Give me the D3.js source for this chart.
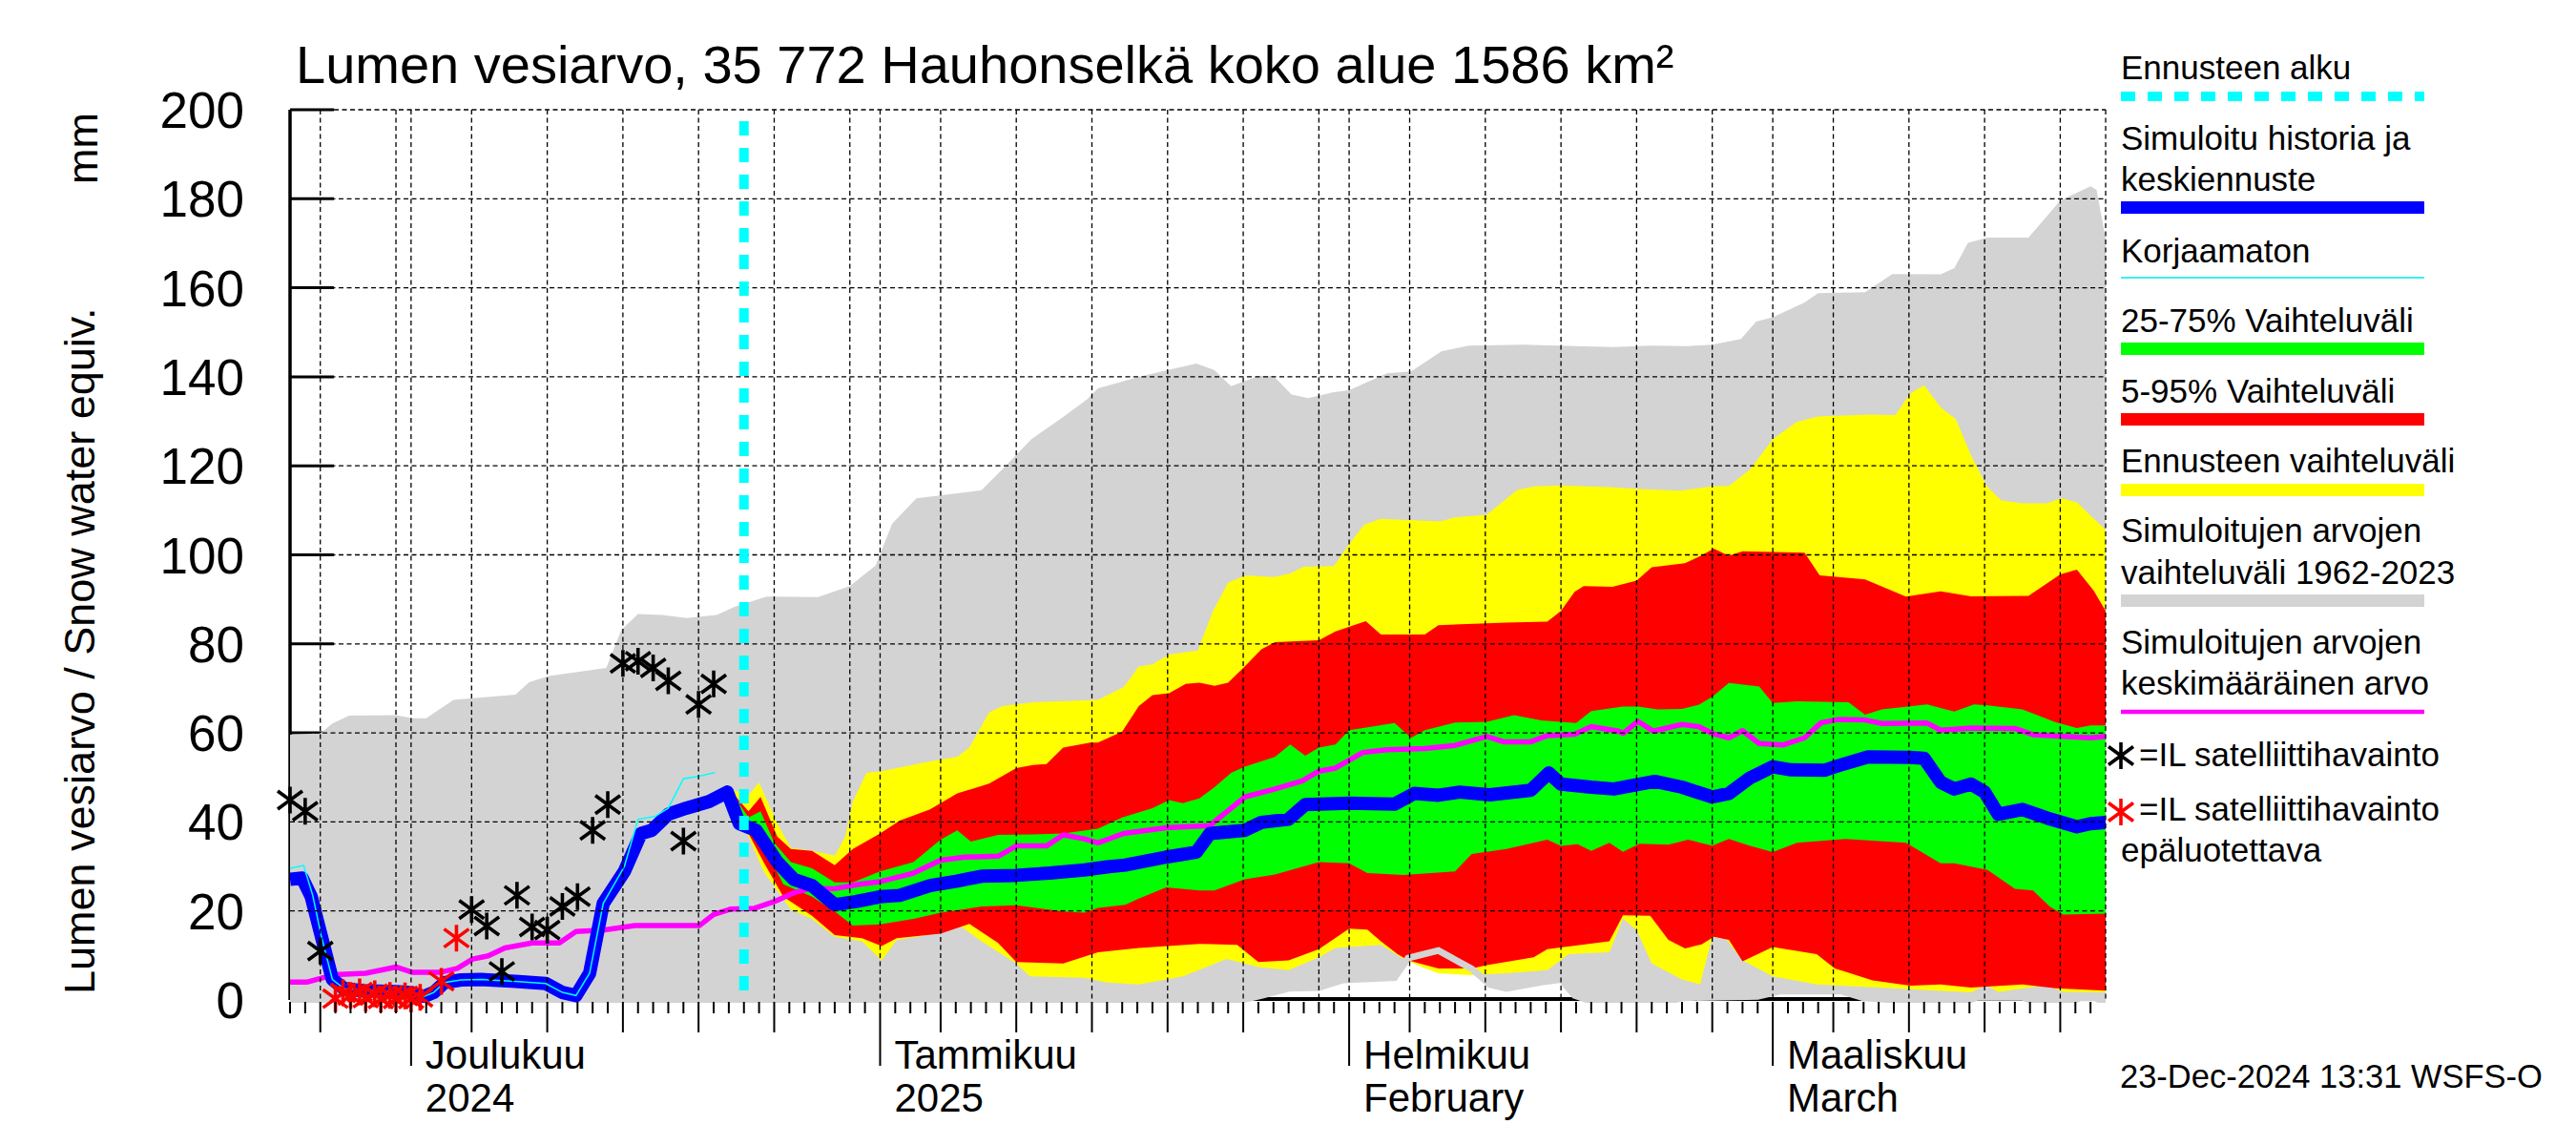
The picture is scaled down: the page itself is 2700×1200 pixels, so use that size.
<!DOCTYPE html>
<html>
<head>
<meta charset="utf-8">
<script src="https://cdn.jsdelivr.net/npm/d3@7"></script>
<style>
  body { margin: 0; background: #fff; }
  text { font-family: "Liberation Sans", Arial, sans-serif; fill: #000; }
</style>
</head>
<body>
<div id="chart"></div>
<script>
'use strict';

// day 0 = 23 Nov 2024, values in mm as [day, value]
var startDate = Date.UTC(2024, 10, 23);
var endDay = 120;
var forecastDay = 30;

var simMax = [[0,59.6],[2,59.9],[2.8,62.1],[3.9,63.9],[7,64],[8.1,63.3],[9,63.3],[10.8,67.4],[14.9,68.6],[15.8,71.4],[17.1,72.8],[20.9,74.6],[21.9,83.1],[23,86.7],[24.6,86.5],[26.2,85.8],[28.2,86.5],[29.5,88.5],[31.5,90.6],[34.9,90.5],[37,93],[38.7,97.6],[39.8,107],[41.4,112.7],[45.7,114.5],[47.3,120],[49,126],[51.1,131],[52.7,135],[53.4,137.4],[56.1,140],[57.9,141.4],[59.9,143],[61.1,141.5],[62.2,137.9],[64,140.2],[65,140.2],[66.2,136],[67.3,135.2],[68.9,136.5],[70,137],[72.5,140.8],[74.1,141.2],[76.1,145.7],[77.9,147],[81.5,147.2],[87.4,146.7],[89.9,147],[92.4,146.9],[94,147.2],[95.9,148.5],[96.9,152.4],[98,153.4],[100.1,156.7],[101,158.8],[104.1,159],[105.9,163.1],[109.1,163],[110,164.4],[110.9,170.1],[112.2,171.3],[114.9,171.3],[117,179.6],[119,182.8],[119.4,182],[120,171]];
var simMin = [[0,0],[62.9,0],[64.2,1],[66,2.6],[68,2.8],[69.6,4.5],[73,5],[73.9,9.4],[75.9,11.1],[78.1,7],[79.3,3.5],[80.4,2.6],[82.7,4],[84,4.6],[84.9,1],[85.8,0],[91.5,0],[92,0.5],[97,0.8],[98.5,2],[102.5,2],[104,0.5],[106,0],[111,0],[111.5,0.6],[114.5,0.6],[115,0],[118,0],[118.3,0.5],[119.3,0.5],[119.6,0],[120,0]];

var fcMax = [[29,47.5],[30.3,46],[31,48.9],[32.2,39.6],[33.1,34.2],[34.5,33.5],[36,32.4],[36.7,36.7],[37.2,44.6],[38.1,51],[39.1,51.4],[42.1,53.5],[44.1,54.6],[44.9,56.7],[46.2,64.6],[47.1,66],[49.1,66.9],[52.5,67.3],[53.4,67.4],[55.1,70.3],[56.1,74.9],[57,75.4],[58.1,77.6],[60,78.5],[61,87.4],[62,93.8],[63.2,95.4],[65,95],[66.1,95.8],[67,97.3],[69,97.5],[70,102.4],[71,106.8],[72.1,108.1],[76,107.5],[77,108.4],[79.1,109],[81.1,114.6],[82.2,115.4],[84,115.6],[87.2,115.2],[89.1,114.8],[91.9,114.4],[94,115.4],[95.1,115.5],[96.5,119.2],[98,126],[99.6,129.9],[101,131.1],[104.3,131.5],[106.1,131.4],[107.1,136.3],[108,138.1],[109.1,133.1],[110.1,130.5],[111.1,122.4],[112.1,115.6],[113.1,112.2],[114.5,111.6],[116.1,111.6],[117.1,112.7],[118.1,111.8],[120,105.6]];
var fcMin = [[29,47.5],[30.3,36.7],[31.3,28.9],[33.1,20.3],[34.5,18.2],[36,14.2],[37.8,13.2],[39.1,8.9],[40.1,13.5],[42.1,14.6],[44.1,17.1],[45.7,13.2],[48,8.2],[48.9,5.3],[52.5,5],[54,3.9],[56.1,3.5],[59,5.3],[61.9,9.2],[64,7.4],[66,6.7],[68,9.6],[69.1,11.7],[72.1,12.4],[73.6,9.2],[74.8,7.4],[75.9,6],[78.1,5.6],[80.4,6],[83.1,6.7],[84.5,10.3],[87.2,10.7],[88.1,18.3],[89,15.7],[90,8.2],[92,4.6],[93.2,3.5],[94,14.2],[94.9,13.7],[96,8.9],[98,5.3],[100.9,3.5],[105,2.8],[111.1,1.7],[112.1,3.3],[112.9,1.8],[116.1,3.3],[117.2,1.8],[120,1.7]];

var p95 = [[29,47.5],[30.3,42.4],[31.1,45.6],[32.2,36.7],[33.1,33.9],[34.5,33.5],[36,30.3],[37.2,33.9],[39,37.4],[40.3,40.3],[42.3,42.8],[44.1,46.4],[46.2,48.6],[48,52.1],[49.1,52.8],[50,53],[51.1,56.7],[52.9,57.8],[53.4,57.8],[55,60.3],[56.1,66],[57,68.5],[58.1,68.9],[59.2,71],[60.1,71.3],[61.1,70.6],[62,71.3],[63.1,74.9],[64.2,78.8],[65.1,80.4],[68,80.8],[69.1,82.8],[71.1,85.1],[72.1,82.1],[75,82.1],[75.9,84.2],[80.4,84.8],[83.1,85],[84,87.4],[84.9,91.7],[85.5,93],[87.4,92.8],[89,94.2],[90,97.2],[92.2,98.1],[93.3,99.9],[94.1,101.4],[95.1,99.8],[96,100.8],[100.1,100.5],[101.1,95.4],[104.1,94.5],[106.8,90.6],[109.1,91.8],[111.1,90.7],[114.9,90.8],[117,95.6],[118.1,96.7],[119.2,92],[120,87.4]];
var p5 = [[29,47.5],[30.3,37.4],[31.3,31],[32.6,23.2],[34.5,18.9],[36,14.6],[37.8,13.9],[39.1,12.1],[40.1,13.9],[43,14.9],[44.9,17.1],[46.8,12.8],[48,8.5],[51.1,8.2],[53.4,10.7],[56.1,11.7],[60.1,12.6],[62.6,12.4],[64,8.5],[66,8.9],[68,11.4],[70,16],[71.2,15.8],[72.1,13.2],[73.2,10.3],[73.9,8.9],[75.9,7.1],[78.1,7.1],[79.1,7.8],[82.2,9.6],[83.1,11.4],[87.2,13.2],[88.1,19],[89.9,18.9],[91.1,13.5],[92.2,11.6],[93.3,12.5],[94.1,14.2],[95.1,13.5],[96,8.7],[98,11.9],[100.9,10.3],[102.1,7.1],[104.6,4.4],[107.1,3.2],[109.1,3.5],[111.1,2.8],[114.5,3.5],[116.7,2.6],[120,2.1]];

var p75 = [[29,47.5],[30.3,41],[31.1,42.4],[32,35.3],[33.1,31],[34.5,29.6],[36,26.4],[37.2,26.4],[39,28.9],[41.2,31],[43,36],[44.1,38.1],[45,35.6],[46.8,37.1],[49.1,37.2],[51.1,37.4],[53.4,38.5],[55,41],[57,43.1],[58.1,44.9],[59,44.2],[60.1,45.3],[61.1,47.8],[62.2,51],[63.1,52.4],[65.1,54.6],[66.1,57.4],[67.1,54.9],[68,56.7],[69.1,57.4],[70,60.6],[73,62.2],[74.1,58.9],[75,60.6],[77,62.3],[79.1,62.5],[80.9,64],[82.7,62.8],[85,62.2],[86,64.9],[88.1,65.9],[89.1,65.9],[90.4,65.3],[92,65.4],[93.1,66.3],[94,68.1],[95.1,71.2],[97.1,70.4],[98,66.7],[99.6,67.1],[103,66.9],[104.1,64.1],[105.2,65.3],[108.2,66.4],[110,64.8],[111.3,66.4],[112.2,66.2],[114.5,65.3],[116.7,62.4],[118.1,61.1],[119,61.7],[120,61.7]];
var p25 = [[29,47.5],[30.3,38.9],[31.3,34.6],[32.6,26],[34.5,23.2],[36,19.9],[37.2,16.7],[39,17],[41.2,18.2],[43,19.6],[45.7,21],[48,21.3],[51.1,19.9],[52.5,19.6],[53.4,20.7],[55.2,21.4],[56.1,22.8],[57.9,25.3],[60.1,24.6],[61.1,24.6],[63.1,27.1],[65.1,28.2],[68,31],[70,30.7],[71.2,28.5],[73.6,28.1],[77,28.9],[78.1,32.8],[80.4,33.9],[83.1,36],[84,34.6],[85.1,35],[86,33.5],[87.2,35.3],[88.1,33.3],[89.2,35.1],[91.1,34.9],[92.4,36],[94,34.7],[95.1,36.2],[96.5,34.6],[98,33.2],[99.6,35.3],[102.8,36.2],[106.8,35.3],[109.1,30.7],[110,30.7],[112.2,29.2],[114,25],[115.2,24.6],[116.3,21],[117.2,19.2],[120,19.4]];

var simMean = [[0,4],[1.1,4],[2.95,5.7],[5,6],[7,7.4],[8.1,6.2],[9.9,6.2],[11.06,7.1],[12.07,9.2],[13.1,9.9],[14.2,11.7],[16,12.8],[17.8,12.8],[18.9,15.4],[20.7,15.7],[22.8,16.7],[27.05,16.7],[28,19.2],[29.1,20.4],[30.7,20.6],[32,22.1],[33.4,24.2],[34.5,25.1],[36,25],[37.6,26],[39,26.6],[41.2,28.5],[43,31.4],[44.6,32.1],[46.8,32.3],[48,34.6],[50,34.6],[51.1,37.1],[52.5,36.2],[53.4,35.3],[55.1,37.4],[57.9,38.7],[60.8,39.2],[63.1,45.6],[65.1,47.4],[66.9,49.2],[68,51.4],[69.1,52.1],[70.9,55.6],[72.5,56.2],[75,56.5],[77,57.2],[79.1,59.2],[80.2,58],[82,58],[83.1,59.4],[84.9,59.7],[86,61.4],[87.8,60.4],[88.1,59.9],[89.1,62.6],[90.1,60.4],[92,61.9],[93.1,61.4],[94,59.9],[95.1,58.9],[96,60.5],[97.1,57.6],[98.7,57.3],[100.1,58.9],[101.2,62.3],[102.3,63],[104.1,62.9],[105.2,62.1],[108.2,62.2],[109.1,60.6],[111.1,61.1],[114,61],[115.2,59.6],[119,58.9],[120,59.2]];

var simMedian = [[0,27.1],[0.8,27.4],[1.4,23.2],[2.05,14.6],[2.8,4.6],[3.6,2.5],[4.75,2.1],[7,1.9],[8.1,1.6],[8.8,0.7],[9.5,1.7],[10.2,3.9],[11.3,4.5],[12.6,4.6],[14.9,4.2],[16.9,3.7],[18,1.7],[18.9,1],[19.8,6],[20.7,21.7],[22.1,28.9],[23.2,37.4],[23.9,38.1],[25,41.7],[26.2,43.1],[27.7,44.6],[28.9,46.7],[29.7,39.6],[30.8,38.1],[32.2,31],[33.3,27.1],[34.5,25.7],[36,21.4],[37.4,22.1],[39,23.2],[40.3,23.5],[42.3,25.7],[44.1,26.7],[45.7,27.8],[48,28],[50.2,28.5],[52.5,29.2],[54,29.9],[55.2,30.3],[57.9,32.1],[59.9,33.2],[60.8,37.4],[63.1,38.1],[64.2,39.9],[66,40.6],[67.1,43.9],[70,44.2],[73,44],[74.3,46.4],[75.9,46],[77.3,46.7],[79.3,46.1],[82,47.1],[83.2,51],[84,48.5],[86,47.8],[87.5,47.4],[90.2,49.1],[92,47.8],[94,45.6],[95.1,46.4],[96.5,49.9],[98,52.4],[99.2,51.7],[101.4,51.6],[102.3,52.6],[104.3,54.6],[107.1,54.5],[108,54.3],[109.1,48.9],[110,47.4],[111.1,48.5],[112,46.7],[112.9,41.7],[114.5,42.8],[116.1,40.9],[118.1,38.9],[119,39.6],[120,39.9]];

var uncorrected = [[0,29.6],[0.9,30.2],[1.5,23.5],[2.05,14.6],[2.8,4.6],[3.6,2.5],[7,1.9],[8.1,1.6],[8.8,0.7],[9.5,1.7],[10.2,3.9],[11.3,4.5],[12.6,4.6],[14.9,4.2],[16.9,3.7],[18,1.7],[18.9,1],[19.8,6],[20.7,21.7],[22.1,30],[23,40.6],[24.1,41.2],[25,43.1],[26,49.7],[27.1,50.3],[28.1,51.1]];

var satObs = [[0,44.9],[1,42.4],[2,11],[12,20.3],[13,16.6],[14,6.4],[15,23.5],[16,16.4],[17,15.7],[18,21],[19,23.2],[20,38.1],[21,43.9],[22,75.6],[23,76.1],[24,74.6],[25,71.7],[26,35.7],[27,66.4],[28,71]];
var satObsBad = [[3,0.3],[3.5,1.6],[4,1],[4.6,1.8],[5,0.4],[5.6,1.4],[6,0.2],[6.6,1],[7,0.2],[7.6,0.9],[8,0.2],[8.6,0.6],[10,4.2],[11,13.9]];

var yTicks = [0, 20, 40, 60, 80, 100, 120, 140, 160, 180, 200];
var monthLabels = [['Joulukuu', '2024'], ['Tammikuu', '2025'], ['Helmikuu', 'February'], ['Maaliskuu', 'March']];
var gridDates = [1, 5, 10, 15, 20, 25, 30];
var midTickDates = [5, 10, 15, 20, 25];

var titleText = 'Lumen vesiarvo, 35 772 Hauhonselkä koko alue 1586 km²';
var stampText = '23-Dec-2024 13:31 WSFS-O';

function dt(d) { return new Date(startDate + d * 864e5); }

var svg = d3.select('#chart').append('svg')
  .attr('width', 2700).attr('height', 1200)
  .style('display', 'block');

var x = d3.scaleUtc().domain([dt(0), dt(endDay)]).range([304, 2207]);
var y = d3.scaleLinear().domain([0, 200]).range([1048, 115]);

var line = d3.line()
  .x(function (p) { return x(dt(p[0])); })
  .y(function (p) { return y(p[1]); });

function band(upper, lower) {
  return line(upper.concat(lower.slice().reverse())) + 'Z';
}

svg.append('clipPath').attr('id', 'plotclip')
  .append('rect').attr('x', 304).attr('y', 115).attr('width', 1903).attr('height', 936);

//axes lines and y ticks sit under the grey area
svg.append('line')
  .attr('x1', 304).attr('x2', 304).attr('y1', 115).attr('y2', 1048)
  .attr('stroke', '#000').attr('stroke-width', 3.5);
svg.append('line')
  .attr('x1', 304).attr('x2', 2207).attr('y1', 1047).attr('y2', 1047)
  .attr('stroke', '#000').attr('stroke-width', 4);
svg.selectAll('line.ytick').data(yTicks).enter().append('line')
  .attr('class', 'ytick')
  .attr('x1', 304).attr('x2', 350)
  .attr('y1', function (d) { return y(d); }).attr('y2', function (d) { return y(d); })
  .attr('stroke', '#000').attr('stroke-width', 3);

var plot = svg.append('g').attr('clip-path', 'url(#plotclip)');

plot.append('path').attr('d', band(simMax, simMin)).attr('fill', '#d3d3d3');
plot.append('path').attr('d', band(fcMax, fcMin)).attr('fill', '#ffff00');
plot.append('path').attr('d', band(p95, p5)).attr('fill', '#ff0000');
plot.append('path').attr('d', band(p75, p25)).attr('fill', '#00ff00');
plot.append('path').attr('d', line(simMin))
  .attr('fill', 'none').attr('stroke', '#d3d3d3').attr('stroke-width', 7);

//dashed grid
var days = d3.utcDay.range(dt(0), dt(endDay));
var gridDays = days.filter(function (d) { return gridDates.indexOf(d.getUTCDate()) >= 0; });
gridDays.push(dt(endDay));

svg.selectAll('line.vgrid').data(gridDays).enter().append('line')
  .attr('class', 'vgrid')
  .attr('x1', function (d) { return x(d); }).attr('x2', function (d) { return x(d); })
  .attr('y1', 115).attr('y2', 1048)
  .attr('stroke', '#000').attr('stroke-width', 1.3).attr('stroke-dasharray', '5,3.5');

svg.selectAll('line.hgrid').data(yTicks.slice(1)).enter().append('line')
  .attr('class', 'hgrid')
  .attr('x1', function (d) { return d === 200 ? 350 : 304; }).attr('x2', 2207)
  .attr('y1', function (d) { return y(d); }).attr('y2', function (d) { return y(d); })
  .attr('stroke', '#000').attr('stroke-width', 1.3).attr('stroke-dasharray', '5,3.5');

//forecast start
svg.append('line')
  .attr('x1', x(dt(forecastDay))).attr('x2', x(dt(forecastDay)))
  .attr('y1', 115).attr('y2', 1048)
  .attr('stroke', '#00ffff').attr('stroke-width', 10)
  .attr('stroke-dasharray', '15,13').attr('stroke-dashoffset', 16);

plot.append('path').attr('d', line(simMean))
  .attr('fill', 'none').attr('stroke', '#ff00ff').attr('stroke-width', 5.5).attr('stroke-linejoin', 'round');
plot.append('path').attr('d', line(simMedian))
  .attr('fill', 'none').attr('stroke', '#0000ff').attr('stroke-width', 14).attr('stroke-linejoin', 'round');
plot.append('path').attr('d', line(uncorrected))
  .attr('fill', 'none').attr('stroke', '#00ffff').attr('stroke-width', 1.5);

function starPath(cx, cy) {
  return 'M' + cx + ',' + (cy - 14) + 'L' + cx + ',' + (cy + 14) +
    'M' + (cx - 13) + ',' + (cy - 9.5) + 'L' + (cx + 13) + ',' + (cy + 9.5) +
    'M' + (cx - 13) + ',' + (cy + 9.5) + 'L' + (cx + 13) + ',' + (cy - 9.5);
}

svg.selectAll('path.obs').data(satObs).enter().append('path')
  .attr('class', 'obs')
  .attr('d', function (p) { return starPath(x(dt(p[0])), y(p[1])); })
  .attr('stroke', '#000').attr('stroke-width', 3.6).attr('fill', 'none');
svg.selectAll('path.obsbad').data(satObsBad).enter().append('path')
  .attr('class', 'obsbad')
  .attr('d', function (p) { return starPath(x(dt(p[0])), y(p[1])); })
  .attr('stroke', '#ff0000').attr('stroke-width', 3.6).attr('fill', 'none');

//x axis ticks below
svg.selectAll('line.xtick').data(days).enter().append('line')
  .attr('class', 'xtick')
  .attr('x1', function (d) { return x(d); }).attr('x2', function (d) { return x(d); })
  .attr('y1', 1050)
  .attr('y2', function (d) {
    if (d.getUTCDate() === 1) return 1117;
    if (midTickDates.indexOf(d.getUTCDate()) >= 0) return 1082;
    return 1062;
  })
  .attr('stroke', '#000').attr('stroke-width', 2);

var monthStarts = d3.utcMonth.range(dt(0), dt(endDay));
var mLab = svg.selectAll('text.month').data(monthStarts).enter().append('text')
  .attr('class', 'month')
  .attr('x', function (d) { return x(d) + 15; })
  .attr('y', 1120)
  .style('font-size', '42px');
mLab.append('tspan').text(function (d, i) { return monthLabels[i][0]; });
mLab.append('tspan')
  .attr('x', function (d) { return x(d) + 15; }).attr('y', 1165)
  .text(function (d, i) { return monthLabels[i][1]; });

//y labels
svg.selectAll('text.ylab').data(yTicks).enter().append('text')
  .attr('class', 'ylab')
  .attr('x', 256).attr('y', function (d) { return y(d); })
  .attr('text-anchor', 'end').attr('dy', '0.36em')
  .style('font-size', '53px')
  .text(function (d) { return d; });

svg.append('text')
  .attr('transform', 'translate(99,1042) rotate(-90)')
  .style('font-size', '45px')
  .text('Lumen vesiarvo / Snow water equiv.');
svg.append('text')
  .attr('transform', 'translate(102,193) rotate(-90)')
  .style('font-size', '45px')
  .text('mm');

svg.append('text')
  .attr('x', 310).attr('y', 87)
  .style('font-size', '56px')
  .text(titleText);

svg.append('text')
  .attr('x', 2222).attr('y', 1140)
  .style('font-size', '34.5px')
  .text(stampText);

//legend
var lx = 2223, lx2 = 2541;
var legendText = [
  ['Ennusteen alku', 83],
  ['Simuloitu historia ja', 157], ['keskiennuste', 200],
  ['Korjaamaton', 275],
  ['25-75% Vaihteluväli', 348],
  ['5-95% Vaihteluväli', 422],
  ['Ennusteen vaihteluväli', 495],
  ['Simuloitujen arvojen', 568], ['vaihteluväli 1962-2023', 612],
  ['Simuloitujen arvojen', 685], ['keskimääräinen arvo', 728],
  ['epäluotettava', 903]
];
svg.selectAll('text.leg').data(legendText).enter().append('text')
  .attr('class', 'leg')
  .attr('x', lx).attr('y', function (d) { return d[1]; })
  .style('font-size', '35px')
  .text(function (d) { return d[0]; });

var legendLines = [
  [101, '#00ffff', 10, '15,13'],
  [217.5, '#0000ff', 13, null],
  [291, '#00e8e8', 1.5, null],
  [365.5, '#00ff00', 13, null],
  [439.5, '#ff0000', 13, null],
  [513.5, '#ffff00', 13, null],
  [629.5, '#d3d3d3', 13, null],
  [746, '#ff00ff', 4.5, null]
];
svg.selectAll('line.legl').data(legendLines).enter().append('line')
  .attr('class', 'legl')
  .attr('x1', lx).attr('x2', lx2)
  .attr('y1', function (d) { return d[0]; }).attr('y2', function (d) { return d[0]; })
  .attr('stroke', function (d) { return d[1]; })
  .attr('stroke-width', function (d) { return d[2]; })
  .attr('stroke-dasharray', function (d) { return d[3]; });

svg.append('path').attr('d', starPath(2223, 792))
  .attr('stroke', '#000').attr('stroke-width', 3.6).attr('fill', 'none');
svg.append('text').attr('x', 2242).attr('y', 803).style('font-size', '35px').text('=IL satelliittihavainto');
svg.append('path').attr('d', starPath(2223, 851))
  .attr('stroke', '#ff0000').attr('stroke-width', 3.6).attr('fill', 'none');
svg.append('text').attr('x', 2242).attr('y', 860).style('font-size', '35px').text('=IL satelliittihavainto');
</script>
</body>
</html>
